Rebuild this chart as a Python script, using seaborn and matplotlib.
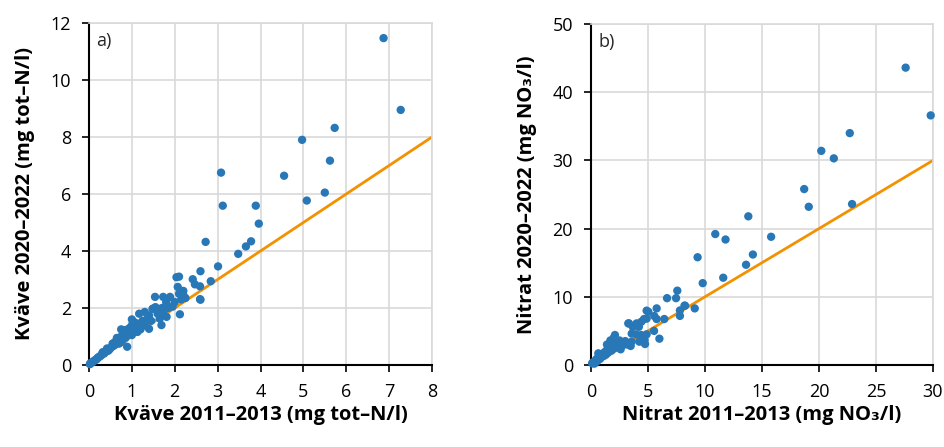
import matplotlib
matplotlib.use("Agg")
import matplotlib.pyplot as plt
import seaborn as sns
import numpy as np

# ---- Data: panel a (Kväve, total N) ----
kvave_2011 = [6.87, 7.27, 5.73, 4.97, 5.62, 4.55, 3.08, 5.50, 5.08, 3.12, 3.89, 3.96, 2.72, 3.78,
              3.66, 3.48, 3.01, 2.84, 2.60, 2.42, 2.47, 2.59, 2.59, 2.10, 2.12,
              2.04, 2.07, 2.10, 2.20, 2.25, 2.15, 2.60, 2.00, 1.54, 1.73, 1.89, 1.80, 1.85, 1.50,
              1.73, 1.81, 1.65, 1.69, 1.30, 1.35, 1.20, 1.55, 1.17, 1.48, 1.40, 1.06, 1.40, 1.13,
              0.75, 0.82, 0.89, 1.25, 1.00, 0.95, 1.10, 1.20, 0.90, 1.00, 1.05, 0.85, 0.80, 0.75,
              0.70, 0.65, 0.60, 0.55, 0.50, 0.48, 0.45, 0.40, 0.38, 0.35, 0.30, 0.28, 0.25, 0.22,
              0.20, 0.18, 0.15, 0.12, 0.10, 0.08, 0.05, 0.03, 0.02, 0.60, 0.70, 0.75, 0.85, 0.95,
              1.15, 1.30, 1.45, 1.60, 1.70, 1.95, 2.20, 0.55, 0.65, 0.42, 0.32, 0.90, 1.00]
kvave_2020 = [11.47, 8.95, 8.32, 7.90, 7.17, 6.64, 6.75, 6.05, 5.77, 5.59, 5.59, 4.96, 4.32, 4.34,
              4.16, 3.90, 3.46, 2.94, 3.29, 3.01, 2.83, 2.76, 2.31, 3.10, 1.78,
              3.08, 2.74, 2.50, 2.45, 2.35, 2.30, 2.29, 2.21, 2.39, 2.39, 2.39, 2.20, 2.00, 1.98,
              1.86, 1.69, 1.63, 1.40, 1.86, 1.60, 1.40, 2.03, 1.80, 1.97, 1.74, 1.50, 1.27, 1.16,
              1.25, 1.22, 0.64, 1.55, 1.40, 1.30, 1.30, 1.25, 1.10, 1.05, 1.20, 0.95, 0.90, 1.00,
              0.85, 0.80, 0.70, 0.65, 0.60, 0.55, 0.50, 0.48, 0.45, 0.40, 0.38, 0.33, 0.30, 0.27,
              0.25, 0.20, 0.18, 0.15, 0.12, 0.10, 0.08, 0.05, 0.03, 0.80, 0.75, 0.80, 1.05, 1.15,
              1.45, 1.40, 1.55, 1.80, 2.00, 2.05, 2.60, 0.75, 0.95, 0.58, 0.45, 1.25, 1.60]

# ---- Data: panel b (Nitrat, NO3) ----
nitrat_2011 = [27.6, 29.8, 22.7, 20.2, 21.3, 18.7, 19.1, 22.9, 13.8, 15.8, 10.9, 11.8, 14.2, 13.6,
               9.35, 11.6, 9.8, 8.2, 9.1, 6.67, 7.46, 7.57, 8.25, 7.8, 7.8, 5.76, 4.88, 5.55, 5.76,
               6.43, 4.65, 4.42, 3.33, 4.0, 4.2, 3.66, 5.53, 4.88, 3.95, 4.65, 3.57, 6.0, 4.24, 4.74,
               3.57, 3.48, 2.69, 5.03, 4.88, 3.27, 2.1, 4.4, 4.7, 1.67, 0.64, 0.1,
               2.5, 2.2, 1.9, 1.6, 1.4, 1.2, 1.0, 0.9, 0.7, 0.5, 0.4, 0.3, 0.2, 0.15, 0.5, 0.8,
               1.5, 1.8, 2.0, 2.3, 2.8, 3.0, 1.3, 1.1, 2.6, 3.2, 0.3, 0.6, 1.7, 2.0, 1.4]
nitrat_2020 = [43.6, 36.6, 34.0, 31.4, 30.3, 25.8, 23.2, 23.6, 21.8, 18.8, 19.2, 18.4, 16.2, 14.7,
               15.8, 12.8, 12.0, 8.7, 8.3, 9.8, 9.8, 10.9, 8.7, 8.0, 7.2, 8.3, 7.97, 7.18, 6.74,
               6.74, 6.74, 6.35, 6.1, 6.1, 5.6, 5.6, 5.0, 4.5, 4.5, 4.15, 4.6, 3.86, 3.42, 3.08,
               3.42, 2.79, 3.18, 7.8, 6.8, 6.1, 4.4, 4.4, 3.67, 3.18, 1.71, 0.25,
               3.6, 3.0, 2.8, 2.4, 2.2, 1.9, 1.6, 1.3, 1.1, 0.9, 0.7, 0.5, 0.4, 0.3, 0.5, 0.9,
               1.8, 2.1, 2.4, 2.6, 2.9, 3.5, 1.5, 1.3, 2.3, 3.0, 0.2, 0.7, 3.6, 4.0, 3.0]

# 1:1 reference lines
line_a = [0, 8]
line_b = [0, 30]

xticks_a = [0, 1, 2, 3, 4, 5, 6, 7, 8]
yticks_a = [0, 2, 4, 6, 8, 10, 12]
xticks_b = [0, 5, 10, 15, 20, 25, 30]
yticks_b = [0, 10, 20, 30, 40, 50]

xlabel_a = "Kväve 2011–2013 (mg tot–N/l)"
ylabel_a = "Kväve 2020–2022 (mg tot–N/l)"
xlabel_b = "Nitrat 2011–2013 (mg NO₃/l)"
ylabel_b = "Nitrat 2020–2022 (mg NO₃/l)"

sns.set_theme(style="white")
plt.rcParams['font.family'] = ['Open Sans', 'DejaVu Sans']

BLUE = "#2878b8"
ORANGE = "#f39200"
GRID = "#d9d9d9"

fig = plt.figure(figsize=(9.45, 4.47), dpi=100)
ax_a = fig.add_axes([89/945, 1-365/447, (432-89)/945, (365-23)/447])
ax_b = fig.add_axes([591/945, 1-365/447, (933-591)/945, (365-24)/447])

def style(ax, xt, yt, xlab, ylab, tag):
    ax.set_xlim(xt[0], xt[-1])
    ax.set_ylim(yt[0], yt[-1])
    ax.set_xticks(xt)
    ax.set_yticks(yt)
    ax.grid(True, color=GRID, linewidth=1.2, zorder=0)
    ax.set_axisbelow(True)
    for s in ["top", "right"]:
        ax.spines[s].set_color(GRID)
        ax.spines[s].set_linewidth(1.2)
    for s in ["left", "bottom"]:
        ax.spines[s].set_color("black")
        ax.spines[s].set_linewidth(1.5)
    ax.tick_params(axis="both", which="major", direction="out", length=5, width=1.2,
                   color="black", labelsize=13, pad=8, left=True, bottom=True,
                   labelcolor="black")
    ax.set_xlabel(xlab, fontsize=14.5, fontweight="bold", labelpad=3, color="black")
    ax.set_ylabel(ylab, fontsize=14.5, fontweight="bold", labelpad=11, color="black")
    ax.text(0.022, 0.975, tag, transform=ax.transAxes, fontsize=13, va="top", ha="left")

sns.lineplot(x=line_a, y=line_a, ax=ax_a, color=ORANGE, linewidth=2, zorder=2)
sns.scatterplot(x=kvave_2011, y=kvave_2020, ax=ax_a, color=BLUE, s=36, edgecolor="none",
                zorder=3, clip_on=False)
style(ax_a, xticks_a, yticks_a, xlabel_a, ylabel_a, "a)")

sns.lineplot(x=line_b, y=line_b, ax=ax_b, color=ORANGE, linewidth=2, zorder=2)
sns.scatterplot(x=nitrat_2011, y=nitrat_2020, ax=ax_b, color=BLUE, s=36, edgecolor="none",
                zorder=3, clip_on=False)
style(ax_b, xticks_b, yticks_b, xlabel_b, ylabel_b, "b)")

fig.savefig("out.png", dpi=100, facecolor="white")
